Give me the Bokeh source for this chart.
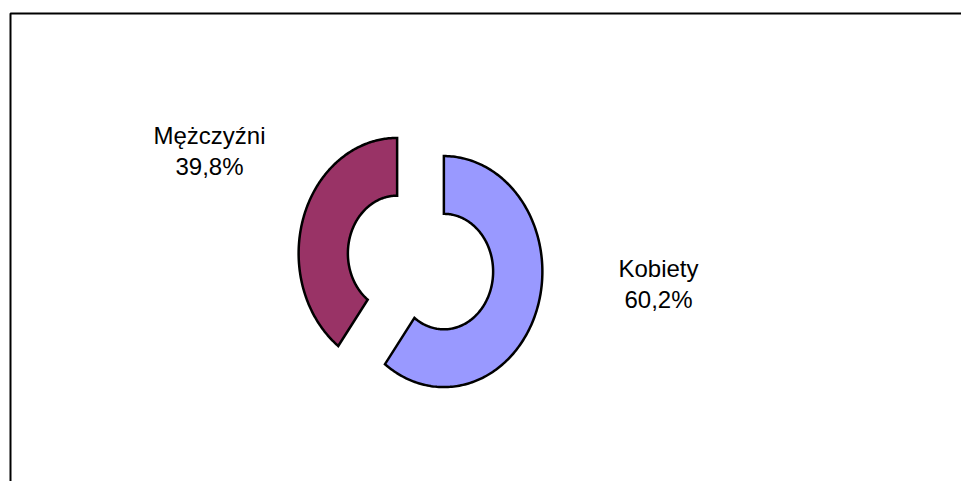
import numpy as np
from bokeh.plotting import figure
from bokeh.models import Range1d, BoxAnnotation, ColumnDataSource
from bokeh.core.properties import value
from bokeh.embed import file_html
from bokeh.resources import INLINE

# ---- data ----
categories = ["Kobiety", "Mężczyźni"]
shares = [60.2, 39.8]
colors = ["#9999FF", "#993366"]

# ---- layout (screen-like coordinates: x = px, y = 481 - px) ----
W, H = 961, 481
cx, cy = 420.0, 219.0          # common centre of the doughnut
rx, ry = 98.5, 115.5           # outer radii (chart was stretched vertically)
hole = 0.5                     # inner radius / outer radius
explode = 0.25                 # explosion distance, fraction of outer radius

p = figure(width=W, height=H, output_backend="svg", toolbar_location=None,
           x_range=Range1d(0, W), y_range=Range1d(0, H),
           min_border=0, outline_line_color=None)
p.axis.visible = False
p.grid.visible = False
p.background_fill_color = "white"
p.border_fill_color = "white"

# frame of the chart area (top and left edges visible)
p.add_layout(BoxAnnotation(left=10, right=2000, top=481 - 13, bottom=-2000,
                           fill_alpha=0, line_color="black", line_alpha=1.0,
                           line_width=2))

# ---- doughnut slices from the data ----
vals = np.array(shares, dtype=float)
fr = vals / vals.sum()
ends = np.cumsum(fr)
starts = ends - fr
xs, ys = [], []
for s, e in zip(starts, ends):
    a0 = np.pi / 2 - 2 * np.pi * s
    a1 = np.pi / 2 - 2 * np.pi * e
    mid = (a0 + a1) / 2
    ox = cx + explode * rx * np.cos(mid)
    oy = cy + explode * ry * np.sin(mid)
    t = np.linspace(a0, a1, 200)
    outer_x = ox + rx * np.cos(t)
    outer_y = oy + ry * np.sin(t)
    inner_x = ox + hole * rx * np.cos(t[::-1])
    inner_y = oy + hole * ry * np.sin(t[::-1])
    xs.append(list(np.concatenate([outer_x, inner_x])))
    ys.append(list(np.concatenate([outer_y, inner_y])))

src = ColumnDataSource(dict(xs=xs, ys=ys, color=colors, cat=categories))
p.patches("xs", "ys", source=src, fill_color="color", line_color="black",
          line_width=2.5, line_join="miter")

# ---- labels ----
pct = [f"{v:.1f}".replace(".", ",") + "%" for v in shares]
label_x = [658, 209]
name_y = [481 - 268, 481 - 135]
pct_y = [481 - 299, 481 - 166]
font = value("Liberation Sans")
p.text(x=label_x, y=name_y, text=categories, text_align="center",
       text_baseline="alphabetic", text_font=font, text_font_size="24px",
       text_color="black")
p.text(x=label_x, y=pct_y, text=pct, text_align="center",
       text_baseline="alphabetic", text_font=font, text_font_size="24px",
       text_color="black")

open("out.html", "w").write(file_html(p, INLINE))
